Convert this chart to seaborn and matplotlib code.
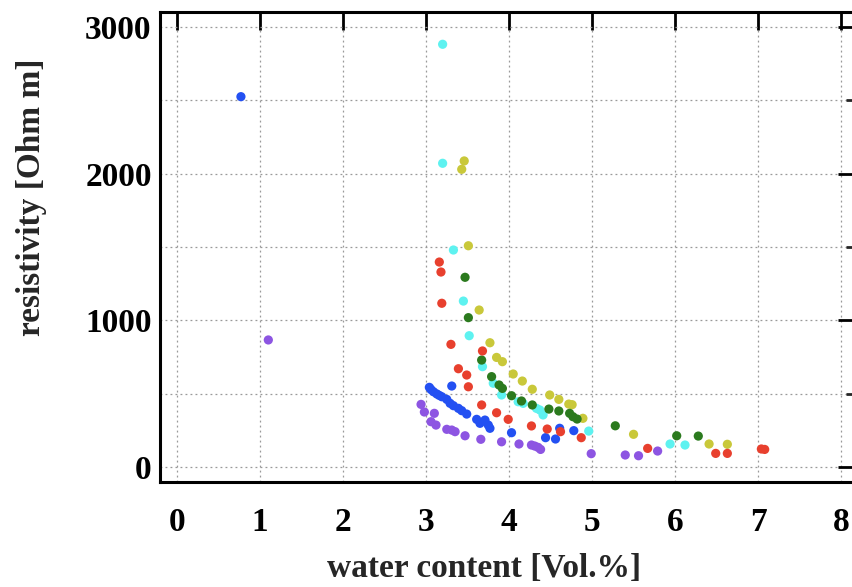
import numpy as np
import pandas as pd
import matplotlib
matplotlib.use("Agg")
import matplotlib.pyplot as plt
import seaborn as sns
from matplotlib.ticker import MultipleLocator

sns.set_style("white")
plt.rcParams['font.family'] = ['Liberation Serif', 'DejaVu Serif']
plt.rcParams['font.weight'] = 'bold'

# water content [Vol.%] and resistivity [Ohm m], one pair of lists per sample
blue_x = [0.77, 3.04, 3.06, 3.09, 3.13, 3.16, 3.19, 3.25, 3.29, 3.31, 3.33, 3.39, 3.43, 3.49,
          3.61, 3.65, 3.71, 3.75, 3.77, 4.03, 4.44, 4.56, 4.61, 4.78]
blue_y = [2524, 543, 528, 513, 498, 488, 479, 461, 434, 552, 418, 400, 384, 361,
          325, 298, 320, 286, 264, 234, 200, 191, 264, 248]

purple_x = [1.10, 2.94, 2.98, 3.06, 3.10, 3.12, 3.25, 3.31, 3.35, 3.47, 3.66, 3.91, 4.12,
            4.27, 4.31, 4.35, 4.38, 4.99, 5.40, 5.56, 5.79]
purple_y = [866, 427, 375, 309, 366, 286, 257, 252, 241, 213, 189, 172, 157,
            150, 143, 134, 120, 91, 82, 77, 109]

cyan_x = [3.20, 3.20, 3.33, 3.45, 3.52, 3.68, 3.81, 3.91, 4.11, 4.17, 4.33, 4.37, 4.41,
          4.96, 5.94, 6.12]
cyan_y = [2881, 2070, 1479, 1131, 895, 684, 571, 491, 445, 434, 400, 389, 355,
          245, 157, 150]

yellow_x = [3.46, 3.43, 3.51, 3.64, 3.77, 3.85, 3.92, 4.05, 4.16, 4.28, 4.49, 4.60, 4.72,
            4.76, 4.89, 5.50, 6.41, 6.63]
yellow_y = [2086, 2029, 1508, 1070, 847, 747, 718, 634, 586, 530, 491, 461, 429,
            425, 332, 223, 157, 155]

green_x = [3.47, 3.51, 3.67, 3.79, 3.88, 3.92, 4.03, 4.15, 4.28, 4.48, 4.60, 4.73, 4.77,
           4.82, 5.28, 6.02, 6.28]
green_y = [1293, 1018, 729, 616, 559, 536, 486, 450, 423, 395, 382, 366, 343,
           327, 281, 213, 211]

red_x = [3.16, 3.18, 3.19, 3.30, 3.68, 3.39, 3.49, 3.51, 3.67, 3.85, 3.99, 4.27, 4.46,
         4.62, 4.87, 5.67, 6.49, 6.63, 7.04, 7.08]
red_y = [1397, 1329, 1116, 836, 791, 670, 627, 547, 423, 370, 325, 280, 259,
         241, 200, 127, 93, 93, 123, 120]

series = {
    "blue": (blue_x, blue_y),
    "purple": (purple_x, purple_y),
    "cyan": (cyan_x, cyan_y),
    "yellow": (yellow_x, yellow_y),
    "green": (green_x, green_y),
    "red": (red_x, red_y),
}
colors = {"blue": "#2350f2", "purple": "#8d55e2", "cyan": "#5ef2f0",
          "yellow": "#c9c83a", "green": "#2b7a1e", "red": "#e8402e"}

frames = [pd.DataFrame({"wc": x, "rho": y, "sample": name}) for name, (x, y) in series.items()]
df = pd.concat(frames, ignore_index=True)

fig = plt.figure(figsize=(8.52, 5.87), dpi=100)
ax = fig.add_axes([160 / 852, 105 / 587, 696 / 852, 470 / 587])

sns.scatterplot(data=df, x="wc", y="rho", hue="sample", palette=colors,
                s=44, linewidth=0, legend=False, ax=ax, zorder=3)

ax.set_xlim(-0.205, 8.18)
ax.set_ylim(-102, 3101)
ax.xaxis.set_major_locator(MultipleLocator(1))
ax.yaxis.set_major_locator(MultipleLocator(1000))
ax.yaxis.set_minor_locator(MultipleLocator(500))

ax.grid(True, which='both', linestyle=(0, (1.5, 2.5)), color='#999999', linewidth=0.9)
ax.tick_params(axis='both', which='major', direction='in', length=13, width=2,
               top=True, right=True, labelsize=24, colors='black')
ax.tick_params(axis='x', pad=18)
ax.tick_params(axis='y', pad=6)
ax.tick_params(axis='y', which='minor', direction='in', length=7, width=2, right=True)

for sp in ax.spines.values():
    sp.set_linewidth(2.2)
    sp.set_color('black')

for lab in ax.get_xticklabels() + ax.get_yticklabels():
    lab.set_fontweight('bold')

ax.set_xlabel("water content [Vol.%]", fontsize=24, fontweight='bold')
ax.set_ylabel("resistivity [Ohm m]", fontsize=24, fontweight='bold')
ax.xaxis.set_label_coords(0.466, -0.152)
ax.yaxis.set_label_coords(-0.163, 0.605)

fig.savefig("out.png", dpi=100)
